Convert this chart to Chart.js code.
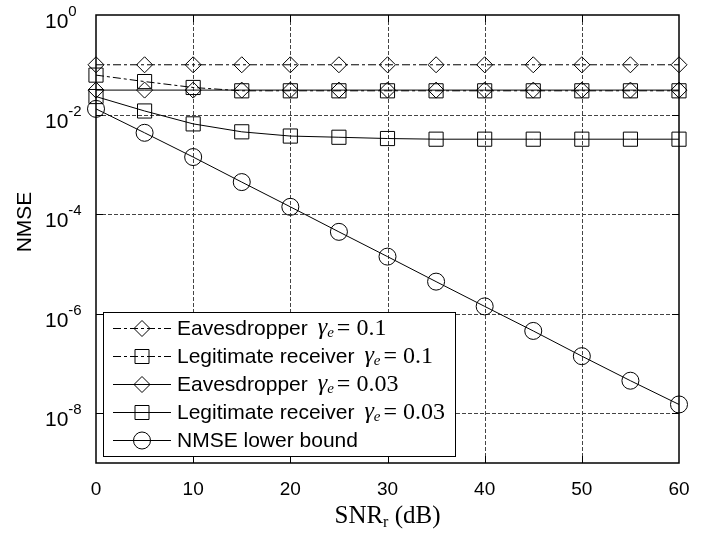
<!DOCTYPE html>
<html><head><meta charset="utf-8">
<script src="https://cdn.jsdelivr.net/npm/chart.js@4/dist/chart.umd.min.js"></script>
<style>html,body{margin:0;padding:0;background:#fff}#wrap{width:720px;height:536px;position:relative}</style>
</head><body><div id="wrap"><canvas id="c" width="720" height="536"></canvas></div>
<script>
const snr = [0,5,10,15,20,25,30,35,40,45,50,55,60];
const eaves01 = [0.1,0.1,0.1,0.1,0.1,0.1,0.1,0.1,0.1,0.1,0.1,0.1,0.1];
const legit01 = [0.062,0.046,0.035,0.030,0.030,0.030,0.030,0.030,0.030,0.030,0.030,0.030,0.030];
const eaves003 = [0.031,0.031,0.031,0.031,0.031,0.031,0.031,0.031,0.031,0.031,0.031,0.031,0.031];
const legit003 = [0.023,0.0118,0.0065,0.0045,0.0037,0.0035,0.0033,0.0032,0.0032,0.0032,0.0032,0.0032,0.0032];
const bound = [0.013,0.0043,0.0014,0.00044,1.4e-4,4.4e-5,1.4e-5,4.4e-6,1.4e-6,4.5e-7,1.4e-7,4.5e-8,1.5e-8];
const xTicks = [0,10,20,30,40,50,60];
const yTickExps = [0,-2,-4,-6,-8];
const seriesNames = ['Eavesdropper','Legitimate receiver','Eavesdropper','Legitimate receiver','NMSE lower bound'];
const gammaVals = ['0.1','0.1','0.03','0.03',null];
const seriesData = [eaves01, legit01, eaves003, legit003, bound];
const markers = ['diamond','square','diamond','square','circle'];
const dashed = [true,true,false,false,false];

const DASH = [8,3,3,3];
const styleMap = {diamond:{ps:'rectRot',r:8}, square:{ps:'rect',r:10}, circle:{ps:'circle',r:8.5}};

const datasets = seriesData.map((arr,i)=>({
  label: seriesNames[i] + (gammaVals[i] ? ' γe = ' + gammaVals[i] : ''),
  data: arr.map((v,j)=>({x:snr[j], y:v})),
  borderColor:'#000', borderWidth:1, backgroundColor:'rgba(0,0,0,0)',
  borderDash: dashed[i] ? DASH : [],
  pointStyle: styleMap[markers[i]].ps, pointRadius: styleMap[markers[i]].r,
  pointBorderColor:'#000', pointBackgroundColor:'rgba(0,0,0,0)', pointBorderWidth:1,
  tension:0, clip:false
}));

function drawMarker(ctx, type, x, y){
  ctx.beginPath();
  if(type==='diamond'){ const r=8; ctx.moveTo(x,y-r); ctx.lineTo(x+r,y); ctx.lineTo(x,y+r); ctx.lineTo(x-r,y); ctx.closePath(); }
  else if(type==='square'){ const h=7; ctx.rect(x-h,y-h,2*h,2*h); }
  else { ctx.arc(x,y,8.5,0,Math.PI*2); }
  ctx.stroke();
}

const deco = {
  id:'deco',
  beforeDatasetsDraw(chart){
    const ctx=chart.ctx, a=chart.chartArea, xs=chart.scales.x, ys=chart.scales.y;
    ctx.save();
    ctx.strokeStyle='#444'; ctx.lineWidth=1; ctx.setLineDash([4,2]);
    xTicks.forEach(t=>{ if(t===xs.min||t===xs.max) return; const x=Math.round(xs.getPixelForValue(t))+0.5; ctx.beginPath(); ctx.moveTo(x,a.top); ctx.lineTo(x,a.bottom); ctx.stroke(); });
    yTickExps.forEach(e=>{ const y=Math.round(ys.getPixelForValue(Math.pow(10,e)))+0.5; if(Math.abs(y-a.top)<2) return; ctx.beginPath(); ctx.moveTo(a.left,y); ctx.lineTo(a.right,y); ctx.stroke(); });
    ctx.restore();
  },
  afterDatasetsDraw(chart){
    const ctx=chart.ctx, a=chart.chartArea, xs=chart.scales.x, ys=chart.scales.y;
    ctx.save();
    // legend
    const L={left:103,top:312,right:455,bottom:456};
    ctx.fillStyle='#fff'; ctx.fillRect(L.left,L.top,L.right-L.left,L.bottom-L.top);
    ctx.strokeStyle='#000'; ctx.lineWidth=1; ctx.setLineDash([]);
    ctx.strokeRect(L.left+0.5,L.top+0.5,L.right-L.left,L.bottom-L.top);
    const rowY=[328,356,384,412,440];
    seriesNames.forEach((name,i)=>{
      const y=rowY[i]+0.5;
      ctx.strokeStyle='#000'; ctx.lineWidth=1;
      ctx.setLineDash(dashed[i]?DASH:[]);
      ctx.beginPath(); ctx.moveTo(113,y); ctx.lineTo(171,y); ctx.stroke();
      ctx.setLineDash([]);
      drawMarker(ctx, markers[i], 142, y);
      ctx.fillStyle='#000'; ctx.textAlign='left'; ctx.textBaseline='alphabetic';
      ctx.font='21px "Liberation Sans", Arial, sans-serif';
      ctx.fillText(name, 177, rowY[i]+7);
      if(gammaVals[i]){
        let x = 177 + ctx.measureText(name).width + 10;
        ctx.font='italic 24px "Liberation Serif", serif';
        ctx.fillText('γ', x, rowY[i]+6); x += ctx.measureText('γ').width;
        ctx.font='italic 15px "Liberation Serif", serif';
        ctx.fillText('e', x, rowY[i]+9); x += ctx.measureText('e').width + 3;
        ctx.font='24px "Liberation Serif", serif';
        ctx.fillText('= ' + gammaVals[i], x, rowY[i]+7);
      }
    });
    // frame
    ctx.strokeStyle='#000'; ctx.lineWidth=1.5; ctx.setLineDash([]);
    ctx.strokeRect(a.left, a.top, a.right-a.left, a.bottom-a.top);
    // inner ticks
    ctx.lineWidth=1;
    xTicks.forEach(t=>{ if(t===xs.min||t===xs.max) return; const x=Math.round(xs.getPixelForValue(t))+0.5;
      ctx.beginPath(); ctx.moveTo(x,a.bottom); ctx.lineTo(x,a.bottom-7); ctx.moveTo(x,a.top); ctx.lineTo(x,a.top+7); ctx.stroke(); });
    yTickExps.forEach(e=>{ const y=Math.round(ys.getPixelForValue(Math.pow(10,e)))+0.5; if(Math.abs(y-a.top)<2) return;
      ctx.beginPath(); ctx.moveTo(a.left,y); ctx.lineTo(a.left+7,y); ctx.moveTo(a.right,y); ctx.lineTo(a.right-7,y); ctx.stroke(); });
    // x tick labels
    ctx.fillStyle='#000'; ctx.textBaseline='alphabetic';
    ctx.font='19px "Liberation Sans", Arial, sans-serif'; ctx.textAlign='center';
    xTicks.forEach(t=>{ ctx.fillText(String(t), xs.getPixelForValue(t), 495); });
    // y tick labels
    yTickExps.forEach(e=>{ const y=ys.getPixelForValue(Math.pow(10,e));
      ctx.textAlign='left';
      ctx.font='21px "Liberation Sans", Arial, sans-serif';
      ctx.fillText('10', 45, y+13);
      const w=ctx.measureText('10').width;
      ctx.font='15px "Liberation Sans", Arial, sans-serif';
      ctx.fillText(e===0?'0':'-'+Math.abs(e), 45+w, y+1);
    });
    // y title
    ctx.save(); ctx.translate(31,222); ctx.rotate(-Math.PI/2);
    ctx.font='21px "Liberation Sans", Arial, sans-serif'; ctx.textAlign='center';
    ctx.fillText('NMSE',0,0); ctx.restore();
    // x title
    ctx.font='25px "Liberation Serif", serif'; ctx.textAlign='left';
    const p1='SNR', p2='r', p3=' (dB)';
    const w1=ctx.measureText(p1).width, w3=ctx.measureText(p3).width;
    ctx.font='16px "Liberation Serif", serif'; const w2=ctx.measureText(p2).width;
    let x0=(a.left+a.right)/2-(w1+w2+w3)/2;
    ctx.font='25px "Liberation Serif", serif'; ctx.fillText(p1,x0,523);
    ctx.font='16px "Liberation Serif", serif'; ctx.fillText(p2,x0+w1,527);
    ctx.font='25px "Liberation Serif", serif'; ctx.fillText(p3,x0+w1+w2,523);
    ctx.restore();
  }
};

new Chart(document.getElementById('c'), {
  type:'line',
  data:{datasets},
  options:{
    responsive:false, animation:false, devicePixelRatio:1,
    layout:{padding:{left:96,right:41,top:15,bottom:73}},
    plugins:{legend:{display:false}, tooltip:{enabled:false}},
    scales:{
      x:{type:'linear', min:0, max:60, display:false},
      y:{type:'logarithmic', min:1e-9, max:1, display:false}
    }
  },
  plugins:[deco]
});
</script></body></html>
